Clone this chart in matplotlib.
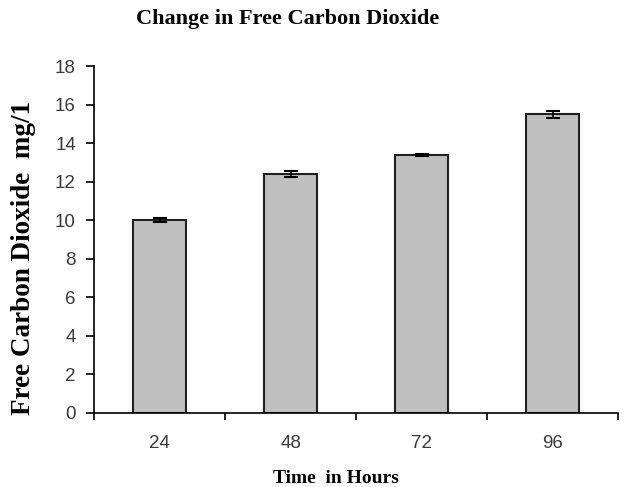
import matplotlib.pyplot as plt
import numpy as np

hours = ['24', '48', '72', '96']
co2 = [10.0, 12.4, 13.4, 15.5]
err = [0.1, 0.15, 0.05, 0.17]

fig = plt.figure(figsize=(6.27, 4.87), dpi=100)
ax = fig.add_axes([0.150, 0.152, 0.836, 0.712])

x = np.arange(len(hours))
ax.bar(x, co2, width=0.4, color='#c0c0c0', edgecolor='#202020', linewidth=1.5, zorder=2)
ax.errorbar(x, co2, yerr=err, fmt='none', ecolor='black', elinewidth=1.2, capsize=5, capthick=1.5, zorder=3)

ax.set_xlim(-0.5, len(hours) - 0.5)
ax.set_ylim(0, 18)
ax.set_yticks(range(0, 19, 2))
ax.set_xticks(x)
ax.set_xticklabels(hours)
ax.set_xticks(np.arange(-0.5, len(hours), 1), minor=True)
ax.tick_params(axis='x', which='major', length=0, pad=16)
ax.tick_params(axis='x', which='minor', length=5, width=1.2, direction='out')
ax.tick_params(axis='y', length=6, width=1.2, direction='out', pad=7)
for lab in ax.get_xticklabels() + ax.get_yticklabels():
    lab.set_fontfamily('Liberation Sans')
    lab.set_fontsize(13.5)
    lab.set_color('#3a3a3a')

ax.spines['top'].set_visible(False)
ax.spines['right'].set_visible(False)
ax.spines['left'].set_linewidth(1.2)
ax.spines['bottom'].set_linewidth(1.2)

fig.text(0.459, 0.962, 'Change in Free Carbon Dioxide', ha='center', va='center',
         family='Liberation Serif', fontweight='bold', fontsize=16)
fig.text(0.536, 0.018, 'Time  in Hours', ha='center', va='center',
         family='Liberation Serif', fontweight='bold', fontsize=14)
fig.text(0.038, 0.471, 'Free Carbon Dioxide  mg/1', ha='center', va='center', rotation=90,
         family='Liberation Serif', fontweight='bold', fontsize=19.5)

fig.savefig('out.png', dpi=100)
